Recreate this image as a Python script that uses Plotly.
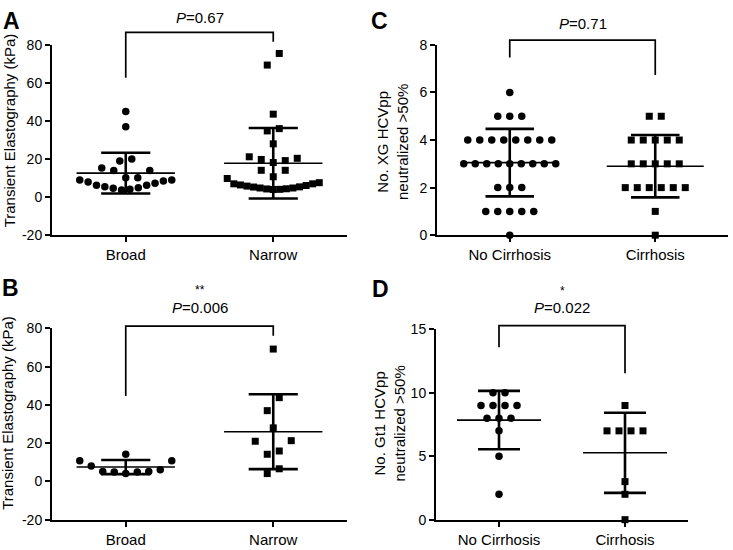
import numpy as np
import plotly.graph_objects as go

W, H = 733, 550
FONT = "Liberation Sans, Arial, sans-serif"

# ---------------- data ----------------
# Panel A: Transient elastography, Broad vs Narrow
a_categories = ["Broad", "Narrow"]
a_broad = [45, 37, 20, 19, 15.3, 14, 14, 10.2, 10.2, 9.0, 9.0, 8.5, 8.0, 7.3,
           6.3, 6.3, 5.4, 4.9, 4.6, 4.1, 3.7]
a_narrow = [75.5, 69.4, 43.6, 36, 34.8, 28, 21.2, 20.4, 19.8, 19.2, 18.2, 14.1,
            14.1, 10.7, 9.8, 7.6, 7.0, 7.0, 6.4, 6.1, 5.8, 5.4, 5.3, 4.8, 4.8,
            4.4, 4.3, 4.1, 4.0]
a_mean = [12.6, 17.8]
a_sd = [10.7, 18.5]
a_ptext = "0.67"
a_stars = ""

# Panel B: Transient elastography, Broad vs Narrow
b_categories = ["Broad", "Narrow"]
b_broad = [14.2, 10.8, 10.8, 8.0, 6.1, 5.2, 5.2, 4.9, 4.9, 4.1]
b_narrow = [69.2, 43.8, 37, 28, 21.3, 21, 15.9, 14.2, 6.6, 4.1]
b_mean = [7.5, 26.0]
b_sd = [3.7, 19.6]
b_ptext = "0.006"
b_stars = "**"

# Panel C: No. XG HCVpp neutralized >50%
c_categories = ["No Cirrhosis", "Cirrhosis"]
c_no_cirrhosis = [6, 5, 5, 5, 4, 4, 4, 4, 4, 4, 4, 4, 3, 3, 3, 3, 3, 3, 3, 3, 3,
                  2, 2, 2, 1, 1, 1, 1, 1, 0]
c_cirrhosis = [5, 5, 4, 4, 4, 4, 4, 3, 3, 3, 3, 3, 2, 2, 2, 2, 2, 2, 1, 0]
c_mean = [3.05, 2.9]
c_sd = [1.42, 1.31]
c_ptext = "0.71"
c_stars = ""

# Panel D: No. Gt1 HCVpp neutralized >50%
d_categories = ["No Cirrhosis", "Cirrhosis"]
d_no_cirrhosis = [10, 10, 9, 9, 9, 9, 8, 8, 8, 7, 5, 2]
d_cirrhosis = [9, 7, 7, 7, 7, 3, 2, 0]
d_mean = [7.85, 5.27]
d_sd = [2.3, 3.16]
d_ptext = "0.022"
d_stars = "*"

# ---------------- layout config (pixels) ----------------
panels = [
    dict(letter="A", cats=a_categories, groups=[a_broad, a_narrow], mean=a_mean, sd=a_sd,
         ptext=a_ptext, stars=a_stars, yrange=[-20, 80], dtick=20,
         box=(52, 347, 38, 234), row_px=12.5,
         title="Transient Elastography (kPa)", title_xy=(9, 126), letter_xy=(11, 13),
         bracket=(86.6, 62.8, 81.6), p_y=94.4, star_y=None),
    dict(letter="B", cats=b_categories, groups=[b_broad, b_narrow], mean=b_mean, sd=b_sd,
         ptext=b_ptext, stars=b_stars, yrange=[-20, 80], dtick=20,
         box=(52, 347, 330, 527), row_px=14,
         title="Transient Elastography (kPa)", title_xy=(8, 417), letter_xy=(10, 288),
         bracket=(81.2, 44.7, 76.1), p_y=90.9, star_y=100),
    dict(letter="C", cats=c_categories, groups=[c_no_cirrhosis, c_cirrhosis], mean=c_mean, sd=c_sd,
         ptext=c_ptext, stars=c_stars, yrange=[0, 8], dtick=2,
         box=(437, 728, 38, 234), row_px=10,
         title="No. XG HCVpp<br>neutralized >50%", title_xy=(393, 138), letter_xy=(379, 13),
         bracket=(8.2, 7.47, 6.73), p_y=8.9, star_y=None),
    dict(letter="D", cats=d_categories, groups=[d_no_cirrhosis, d_cirrhosis], mean=d_mean, sd=d_sd,
         ptext=d_ptext, stars=d_stars, yrange=[0, 15], dtick=5,
         box=(436, 688, 331, 527), row_px=10,
         title="No. Gt1 HCVpp<br>neutralized >50%", title_xy=(390, 428), letter_xy=(380, 289),
         bracket=(15.3, 13.6, 11.55), p_y=16.7, star_y=18.06),
]

XR = [-0.5, 1.5]
SYMBOLS = ["circle", "square"]
SIZES = [7.5, 7]


def swarm(values, px_per_y, px_per_x, row_px, max_step_px=12.0, max_width_px=92.0):
    """GraphPad-like scatter layout: group close values into rows, spread from centre."""
    vals = np.asarray(values, float)
    order = np.argsort(vals, kind="stable")
    rows, cur, start = [], [], None
    for idx in order:
        v = vals[idx]
        if cur and (v - start) * px_per_y < row_px:
            cur.append(idx)
        else:
            if cur:
                rows.append(cur)
            cur, start = [idx], v
    if cur:
        rows.append(cur)
    offs = np.zeros(len(vals))
    for row in rows:
        n = len(row)
        step = max_step_px if n < 2 else min(max_step_px, max_width_px / (n - 1))
        pos = []
        for k in range(n):
            if k == 0:
                pos.append(0.0)
            else:
                m = (k + 1) // 2
                pos.append(m * step if k % 2 == 1 else -m * step)
        pos = np.array(pos)
        pos -= (pos.max() + pos.min()) / 2
        for idx, p in zip(row, pos):
            offs[idx] = p / px_per_x
    return offs


fig = go.Figure()
shapes, annotations = [], []
LINE = "black"

for i, p in enumerate(panels):
    sfx = "" if i == 0 else str(i + 1)
    xa, ya = "x" + sfx, "y" + sfx
    x0, x1, y0, y1 = p["box"]
    r0, r1 = p["yrange"]
    px_per_y = (y1 - y0) / (r1 - r0)
    px_per_x = (x1 - x0) / (XR[1] - XR[0])
    ytv = list(np.arange(r0, r1 + 1e-9, p["dtick"]))
    ytt = [str(int(round(v))) for v in ytv]

    fig.layout["xaxis" + sfx] = dict(
        domain=[x0 / W, x1 / W], anchor=ya, range=XR, tickmode="array",
        tickvals=[0, 1], ticktext=p["cats"], ticks="outside", ticklen=5, tickwidth=2,
        tickcolor=LINE, showline=True, linewidth=2, linecolor=LINE, showgrid=False,
        zeroline=False, fixedrange=True, tickfont=dict(size=15, color="black", family=FONT))
    fig.layout["yaxis" + sfx] = dict(
        domain=[1 - y1 / H, 1 - y0 / H], anchor=xa, range=[r0, r1], tickmode="array",
        tickvals=ytv, ticktext=ytt, ticks="outside", ticklen=5, tickwidth=2, tickcolor=LINE,
        showline=True, linewidth=2, linecolor=LINE, showgrid=False, zeroline=False,
        fixedrange=True, tickfont=dict(size=14, color="black", family=FONT))

    for g, vals in enumerate(p["groups"]):
        offs = swarm(vals, px_per_y, px_per_x, p["row_px"])
        fig.add_trace(go.Scatter(
            x=g + offs, y=vals, mode="markers", xaxis=xa, yaxis=ya, cliponaxis=False,
            marker=dict(symbol=SYMBOLS[g], size=SIZES[g], color="black", line=dict(width=0)),
            showlegend=False, hoverinfo="y"))
        m, s = p["mean"][g], p["sd"][g]
        shapes.append(dict(type="line", xref=xa, yref=ya, x0=g - 1 / 3, x1=g + 1 / 3,
                           y0=m, y1=m, line=dict(color=LINE, width=1.6), layer="above"))
        shapes.append(dict(type="line", xref=xa, yref=ya, x0=g, x1=g, y0=m - s, y1=m + s,
                           line=dict(color=LINE, width=2.6), layer="above"))
        for yy in (m - s, m + s):
            shapes.append(dict(type="line", xref=xa, yref=ya, x0=g - 1 / 6, x1=g + 1 / 6,
                               y0=yy, y1=yy, line=dict(color=LINE, width=2.6), layer="above"))

    def fy(v, r0=r0, r1=r1):
        return (v - r0) / (r1 - r0)

    def fx(c):
        return (c - XR[0]) / (XR[1] - XR[0])

    top, lbot, rbot = p["bracket"]
    path = (f"M {fx(0)},{fy(lbot)} L {fx(0)},{fy(top)} L {fx(1)},{fy(top)} "
            f"L {fx(1)},{fy(rbot)}")
    shapes.append(dict(type="path", xref=xa + " domain", yref=ya + " domain", path=path,
                       line=dict(color=LINE, width=1.7)))

    annotations.append(dict(x=fx(0.5), y=fy(p["p_y"]), xref=xa + " domain",
                            yref=ya + " domain", showarrow=False,
                            text="<i>P</i>=" + p["ptext"], xanchor="center", yanchor="middle",
                            font=dict(size=15, color="black", family=FONT)))
    if p["stars"]:
        annotations.append(dict(x=fx(0.5), y=fy(p["star_y"]), xref=xa + " domain",
                                yref=ya + " domain", showarrow=False,
                                text=p["stars"], xanchor="center", yanchor="middle",
                                font=dict(size=12, color="black", family=FONT)))
    tx, ty = p["title_xy"]
    annotations.append(dict(x=tx / W, y=1 - ty / H, xref="paper", yref="paper",
                            showarrow=False, text=p["title"], textangle=-90,
                            xanchor="center", yanchor="middle",
                            font=dict(size=15, color="black", family=FONT)))
    lx, ly = p["letter_xy"]
    annotations.append(dict(x=lx / W, y=1 - ly / H, xref="paper", yref="paper",
                            showarrow=False, text="<b>" + p["letter"] + "</b>",
                            xanchor="center", yanchor="middle",
                            font=dict(size=23, color="black", family=FONT)))

fig.update_layout(width=W, height=H, autosize=False, margin=dict(l=0, r=0, t=0, b=0),
                  paper_bgcolor="white", plot_bgcolor="white", shapes=shapes,
                  annotations=annotations, font=dict(family=FONT, color="black"))
fig.write_html("out.html", config={"displayModeBar": False},
               post_script="document.body.style.margin='0';document.body.style.overflow='hidden';")
